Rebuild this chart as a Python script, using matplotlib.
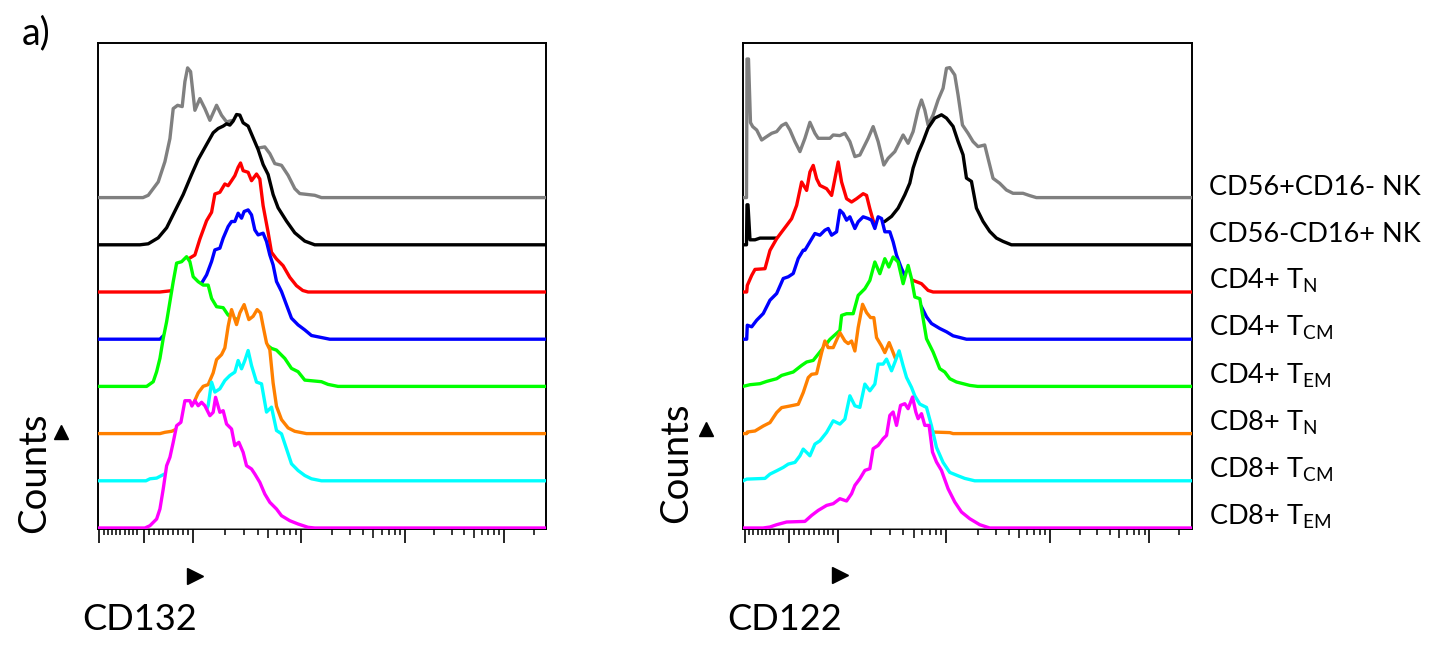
import numpy as np
import matplotlib
matplotlib.use("Agg")
import matplotlib.pyplot as plt
import matplotlib.transforms as mtransforms
from matplotlib.lines import Line2D

plt.rcParams['font.family'] = ['Lato', 'DejaVu Sans']
plt.rcParams['mathtext.fontset'] = 'custom'
plt.rcParams['mathtext.rm'] = 'Lato'
plt.rcParams['mathtext.it'] = 'Lato:italic'
plt.rcParams['mathtext.bf'] = 'Lato:bold'

# ---------------- data ----------------
populations = ["CD56+CD16- NK", "CD56-CD16+ NK",
               "CD4+ T$_{\\mathrm{N}}$", "CD4+ T$_{\\mathrm{CM}}$", "CD4+ T$_{\\mathrm{EM}}$",
               "CD8+ T$_{\\mathrm{N}}$", "CD8+ T$_{\\mathrm{CM}}$", "CD8+ T$_{\\mathrm{EM}}$"]
colors = ["#808080", "#000000", "#ff0000", "#0000ff", "#00ff00", "#ff8000", "#00ffff", "#ff00ff"]
markers = ["CD132", "CD122"]

# x: display channel, h: normalised counts (mode-scaled)
# ---- CD132 ----
c132_nk56_x = [0, 45.5, 50.8, 60.8, 67.5, 72.5, 75.8, 80.2, 84.8, 87.5, 90.2, 93.2, 97.5, 102.5, 107.5, 112.5, 119.2, 124.2, 129.2, 134.2, 144.2, 150.5, 157.5, 167.5, 172.5, 177.5, 184.2, 190.8, 197.5, 202.5, 217.5, 224.2]
c132_nk56_h = [0, 0, 2.3, 15.7, 36, 59, 89, 92.3, 91, 116, 129.7, 126, 87.3, 99, 89, 77.3, 92.3, 82.3, 75.7, 77, 76, 66, 49, 50.7, 44, 34, 32.3, 22.3, 9, 4, 2.3, 0]
c132_nk16_x = [0, 42.5, 50.8, 60.8, 69.2, 77.5, 85.8, 94.2, 100.8, 109.2, 115.8, 120.8, 125.8, 129.2, 132.5, 135.8, 139.2, 142.5, 145.8, 150.8, 155.8, 160.8, 165.8, 170.8, 175.8, 180.8, 189.2, 197.5, 207.5, 217.5]
c132_nk16_h = [0, 0, 1, 7, 17, 33.7, 50.3, 70.3, 85.3, 100.3, 112, 116.3, 118.7, 121, 119.7, 123.7, 130.3, 129.7, 122, 118.7, 107, 95.3, 80.3, 70.3, 50.3, 37, 23.7, 12, 3.7, 0]
c132_cd4n_x = [0, 62.5, 74.2, 82.5, 90.8, 97.5, 102.5, 109.2, 114.2, 117.5, 122.5, 127.5, 130.8, 134.2, 137.5, 140.8, 143.2, 145.8, 150.8, 154.2, 159.2, 162.5, 165.8, 170.8, 174.2, 179.2, 185.8, 192.5, 199.2, 205.5, 210.8]
c132_cd4n_h = [0, 0, 1.3, 10, 33, 37, 53, 71.3, 79.7, 98, 99.7, 108, 106.3, 111.3, 116.3, 124.7, 129, 121.3, 119.7, 111.3, 118, 113, 86.3, 59.7, 39.7, 33, 26.3, 14.7, 6.3, 1.5, 0]
c132_cd4cm_x = [0, 62.5, 65.5, 72.5, 87.5, 97.5, 104.2, 109.2, 114.2, 117.5, 122.5, 125.8, 130.8, 134.2, 137.5, 140.8, 144.2, 146.8, 150.8, 154.2, 157.5, 160.8, 165.8, 169.2, 172.5, 175.8, 179.2, 184.2, 189.2, 194.2, 200.8, 207.5, 214.2, 227.5, 232.5]
c132_cd4cm_h = [0, 0, 3, 7, 22, 42, 56, 64.3, 77.7, 89.3, 91, 101, 112.7, 117.7, 117.7, 126, 121, 127.7, 129.3, 124.3, 109.3, 104.3, 106, 97.7, 84.3, 74.3, 57.7, 47.7, 34.3, 21, 14.3, 9.3, 3.7, 1, 0]
c132_cd4em_x = [0, 49.2, 55.8, 59.2, 62.5, 65.8, 69.2, 72.5, 75.8, 79.2, 84.2, 89.2, 92.5, 95.8, 100.8, 105.8, 110.8, 114.2, 119.2, 125.8, 130.8, 137.5, 147.5, 157.5, 167.5, 174.2, 179.2, 187.5, 194.2, 200.8, 207.5, 224.2, 230.8, 240.8]
c132_cd4em_h = [0, 0, 4.7, 14.7, 28, 48, 64.7, 84.7, 104.7, 123.3, 124.7, 129.7, 124.7, 109.7, 104.7, 101.3, 101.3, 88, 79.7, 78.7, 71.3, 68, 63, 55, 43, 38, 36.3, 28, 18, 14.7, 6.3, 4.7, 2, 0]
c132_cd8n_x = [0, 62.5, 67.5, 74.2, 82.5, 92.5, 100.8, 105.8, 110.8, 115.8, 119.2, 124.2, 127.5, 130.8, 134.2, 139.2, 142.5, 146.8, 151.5, 155.8, 159.8, 163.2, 165.8, 169.2, 172.5, 175.8, 179.2, 184.2, 190.8, 197.5, 209.2]
c132_cd8n_h = [0, 0, 1.3, 2.3, 6, 22, 40.7, 47.3, 49, 60.7, 74, 79, 85.7, 107.3, 124, 109, 120.7, 129, 114, 117.3, 124, 120.7, 107.3, 90.7, 84, 50.7, 27.3, 14, 5.7, 2.3, 0]
c132_cd8cm_x = [0, 48.5, 52.5, 59.2, 64.2, 77.5, 92.5, 102.5, 110.8, 114.2, 117.5, 122.5, 127.5, 132.5, 137.5, 140.8, 144.2, 147.5, 150.8, 154.2, 159.2, 164.2, 169.2, 174.2, 179.2, 184.2, 189.2, 194.2, 200.8, 207.5, 214.2, 224.2]
c132_cd8cm_h = [0, 0, 2, 2.7, 5.3, 12, 32, 52, 75.3, 98.7, 88.7, 92, 100.3, 105.3, 108.7, 120.3, 112, 120.3, 130.3, 115.3, 98.7, 97, 68.7, 73.7, 50.3, 47, 32, 17, 10.3, 5.3, 2, 0]
c132_cd8em_x = [0, 47.5, 52.5, 59.2, 62.5, 65.8, 69.2, 72.5, 75.8, 79.2, 83.5, 87.5, 92.5, 94.5, 97.5, 100.8, 104.2, 107.5, 112.5, 115.8, 118.2, 122.5, 125.8, 129.2, 134.2, 137.5, 141.5, 145.8, 149.2, 154.2, 157.5, 162.5, 167.5, 172.5, 179.2, 184.2, 192.5, 200.8, 210.8, 217.5]
c132_cd8em_h = [0, 0, 2.3, 9, 19, 39, 62.3, 70.7, 85.7, 102.3, 105.7, 127.3, 127.3, 122, 127.3, 122.3, 125.7, 122.3, 112.3, 115.7, 130.7, 115.7, 117.3, 104, 99, 82.3, 85.7, 75.7, 62.3, 59, 54, 45.7, 34, 25.7, 19, 12.3, 7.3, 4, 0.7, 0]

# ---- CD122 ----
c122_nk56_x = [0, 3.5, 4, 5.5, 7.5, 9.7, 13.7, 18.7, 23.7, 28.7, 33.7, 38.7, 43, 47, 52, 57, 62, 67, 72, 75.3, 87, 90.3, 97, 102, 107, 112, 117, 125.3, 130.3, 135.3, 141, 145.3, 152, 160.3, 165.3, 170.3, 175.3, 178.7, 182, 185.3, 190.3, 195.3, 200.3, 203.7, 207, 212, 215.3, 219.7, 225.3, 230.3, 235.3, 242, 245.3, 250.3, 257, 263.7, 270.3, 280.3, 287, 293.7]
c122_nk56_h = [0, 0, 138.6, 138.6, 75, 71, 67.6, 57.6, 61, 64.3, 66, 72, 74.3, 67.6, 56, 46, 59.3, 75.3, 64.3, 59.3, 59.3, 62.6, 62, 64.3, 56, 41, 42.6, 59.3, 71, 56, 32.6, 39.3, 46, 62.6, 54.3, 66, 87.6, 97.6, 87.6, 72.6, 82.6, 97.6, 109.3, 129.3, 130, 122.6, 102.6, 72.6, 64.3, 56, 51, 52.6, 39.3, 19.3, 14.3, 7.6, 4.3, 4.3, 2, 0]
c122_nk16_x = [0, 3.5, 4, 5, 7, 12, 17, 33.7, 60, 90, 117, 142, 148.7, 155.3, 162, 167, 170.3, 175.3, 180.3, 185.3, 192, 198.7, 203.7, 210.3, 215.3, 220.3, 223.7, 228.7, 233.7, 240.3, 247, 253.7, 260.3, 268.7]
c122_nk16_h = [0, 0, 40, 40, 5, 5, 6.7, 6.7, 7, 9, 14, 23.4, 28.4, 36.7, 50, 61.7, 76.7, 91.7, 103.4, 116.7, 126.7, 130, 126.7, 118.4, 103.4, 90, 66.7, 63.4, 36.7, 23.4, 13.4, 6.7, 3.4, 0]
c122_cd4n_x = [0, 3.7, 4.3, 8.7, 12, 22, 27, 33.7, 38.7, 43.7, 48.7, 53.7, 58.7, 63.7, 67, 70.3, 73.7, 77, 83.7, 88.7, 92, 95.3, 98.7, 103.7, 108.7, 113.7, 120.3, 123.7, 127, 130.3, 142, 152, 162, 170.3, 178.7, 185.3, 190.3]
c122_cd4n_h = [0, 0, 6.6, 16.6, 22.6, 23.3, 41.6, 53.3, 60, 66.6, 73.3, 86.6, 110, 101.6, 120, 126.6, 113.3, 106.6, 103.3, 96.6, 113.3, 130, 110, 93.3, 90, 93.3, 98.3, 96.6, 83.3, 71.6, 48, 28, 15, 11.6, 8.3, 1.6, 0]
c122_cd4cm_x = [0, 3.7, 4.3, 8.7, 13.7, 20.3, 27, 33.7, 40.3, 45.3, 50.3, 55.3, 60.3, 62, 67, 72, 77, 82, 85.3, 88.7, 93.7, 97, 100.3, 103.7, 107, 112, 115.3, 120.3, 125.3, 128.7, 132, 135.3, 138.7, 142, 147, 150.3, 153.7, 158.7, 162, 170.3, 178.7, 183.7, 188.7, 197, 203.7, 210.3, 223.7]
c122_cd4cm_h = [0, 0, 14, 12.4, 19, 25.7, 39, 45.7, 60.7, 62.4, 65.7, 80.7, 89, 89, 97.4, 105.7, 104, 109, 110.7, 104, 107.4, 129, 125.7, 119, 122.4, 110.7, 117.4, 122.4, 120.7, 119, 110.7, 122.4, 120.7, 107.4, 107.4, 97.4, 84, 70.7, 64, 44, 32.4, 22.4, 15.7, 10.7, 7.4, 3.4, 0]
c122_cd4em_x = [0, 7, 17, 23.7, 33.7, 38.7, 50.3, 58.7, 63.7, 70.3, 77, 87, 97, 98.7, 103.7, 110.3, 115.3, 122, 127, 132, 137, 142, 146, 150.3, 155.3, 160.3, 165.3, 168.7, 172, 177, 183.7, 190.3, 197, 202, 207, 213.7, 227, 235]
c122_cd4em_h = [0, 1.7, 2.7, 5, 7.7, 11, 14.4, 21, 24.4, 26, 34.4, 47, 56, 71, 72.7, 72.7, 91, 97.7, 106, 124.4, 112.7, 127.7, 119.4, 129.4, 124.4, 102.7, 121, 107.7, 89.4, 87.7, 47.7, 34.4, 17.7, 14.4, 7.7, 4.4, 1, 0]
c122_cd8n_x = [0, 3.7, 4.3, 12, 20.3, 27, 33.7, 38.7, 47, 55.3, 60.3, 65.3, 68.7, 73.7, 78.7, 82, 85.3, 90.3, 97, 102, 105.3, 108.7, 112, 115.3, 119.7, 123.7, 127.7, 131, 133.7, 138.7, 142, 146.3, 150.3, 157, 167, 177, 188.7, 207, 210.3]
c122_cd8n_h = [0, 0, 1.6, 2.6, 7.6, 11, 21, 26, 27.6, 29.3, 41, 56, 59.3, 60, 81, 92.6, 86, 86, 101, 92.6, 90, 92.6, 82.6, 106, 129.3, 121, 116, 116, 96, 87.6, 81, 91, 81, 64, 34, 9, 1.6, 1, 0]
c122_cd8cm_x = [0, 3.7, 22, 27, 33.7, 40.3, 45.3, 52, 57, 60.3, 63.7, 67, 72, 77, 83.7, 90.3, 97, 102, 107, 112, 117, 122, 127, 132, 135.3, 140.3, 143.7, 148.7, 152, 156.3, 160.3, 163.7, 168.7, 172, 177, 183.7, 188.7, 193.7, 200.3, 207, 215.3, 222, 232]
c122_cd8cm_h = [0, 1.7, 2.4, 6.7, 10, 13.4, 16.7, 18.4, 25, 31.7, 28.4, 25, 36.7, 40, 48.4, 60, 56.7, 61.7, 85, 75, 73.4, 96.7, 90, 96.7, 116.7, 116.7, 121.7, 110, 118.4, 130, 115, 103.4, 93.4, 85, 76.7, 73.4, 55, 33.4, 18.4, 8.4, 5, 2.4, 0]
c122_cd8em_x = [0, 20, 27, 33.7, 43.7, 62, 68.7, 75.3, 83.7, 90.3, 97, 103.7, 108.7, 112, 117, 122, 127, 130.3, 135.3, 140.3, 143.7, 147, 150.3, 153.7, 157.7, 162, 165.3, 169.7, 173, 175.3, 178.7, 182, 186.3, 189.7, 193.7, 198.7, 205.3, 212, 218.7, 227, 237, 247]
c122_cd8em_h = [0, 0, 1, 3.3, 6, 6.6, 12.6, 17.6, 22.6, 24.3, 29.3, 27, 34.3, 42.6, 49.3, 57.6, 59.3, 79.3, 82.6, 89.3, 92.6, 112.6, 116, 102.6, 122.6, 124.3, 119.3, 131, 116, 109.3, 114.3, 102.6, 102.6, 76, 66, 57.6, 39.3, 26, 16, 9.3, 3.3, 0]

cd132_series = [(c132_nk56_x, c132_nk56_h), (c132_nk16_x, c132_nk16_h), (c132_cd4n_x, c132_cd4n_h),
                (c132_cd4cm_x, c132_cd4cm_h), (c132_cd4em_x, c132_cd4em_h), (c132_cd8n_x, c132_cd8n_h),
                (c132_cd8cm_x, c132_cd8cm_h), (c132_cd8em_x, c132_cd8em_h)]
cd122_series = [(c122_nk56_x, c122_nk56_h), (c122_nk16_x, c122_nk16_h), (c122_cd4n_x, c122_cd4n_h),
                (c122_cd4cm_x, c122_cd4cm_h), (c122_cd4em_x, c122_cd4em_h), (c122_cd8n_x, c122_cd8n_h),
                (c122_cd8cm_x, c122_cd8cm_h), (c122_cd8em_x, c122_cd8em_h)]

# ---------------- layout / style ----------------
W, H = 1437, 646
XMAX = 449.0
STEP = 47.2
YMAX = 486.0


def biex(v):
    """Map fluorescence intensity to display channel (biexponential-like axis)."""
    if v < 0:
        return 44.0 + v * 0.42
    if v <= 100:
        return 46.5 + v * 0.487
    if v <= 1e3:
        return 95.2 + np.log10(v / 100) * 108.3
    if v <= 1e4:
        return 203.5 + np.log10(v / 1e3) * 104.0
    if v <= 1e5:
        return 307.5 + np.log10(v / 1e4) * 99.0
    return 406.5 + np.log10(v / 1e5) * 100.0


major_vals = [-100, 0, 100, 1e3, 1e4, 1e5]
medium_vals = [500, 5e3, 5e4]
minor_vals = ([-v for v in range(10, 100, 10)] + list(range(10, 100, 10))
              + [200, 300, 400, 600, 700, 800, 900]
              + [2e3, 3e3, 4e3, 6e3, 7e3, 8e3, 9e3]
              + [2e4, 3e4, 4e4, 6e4, 7e4, 8e4, 9e4] + [2e5])

fig = plt.figure(figsize=(W / 100, H / 100), dpi=100)

panels = [(97.5, cd132_series), (743.0, cd122_series)]
axes = []
for left_px, series in panels:
    ax = fig.add_axes([left_px / W, 1 - 529 / H, 448.5 / W, 486 / H])
    n = len(series)
    for k, (xs, hs) in enumerate(series):
        off = (n - 1 - k) * STEP
        x = np.concatenate([np.asarray(xs, float), [XMAX]])
        h = np.concatenate([np.asarray(hs, float), [0.0]])
        ax.fill_between(x, off, off + h, color="white", lw=0, zorder=10 + 2 * k)
        ax.plot(x, off + h, color=colors[k], lw=2.4, zorder=11 + 2 * k,
                solid_joinstyle="round")
    ax.set_xlim(0, XMAX)
    ax.set_ylim(-1.0, YMAX - 1.0)
    ax.set_yticks([])
    for s in ax.spines.values():
        s.set_linewidth(1.4)
        s.set_zorder(5)
    ax.set_xticks([biex(v) for v in major_vals])
    ax.set_xticks([biex(v) for v in minor_vals], minor=True)
    ax.tick_params(axis="x", which="major", length=10, width=1.2, labelbottom=False)
    ax.tick_params(axis="x", which="minor", length=4, width=1.1)
    sec = ax.secondary_xaxis("bottom")
    sec.set_xticks([biex(v) for v in medium_vals])
    sec.tick_params(length=6.5, width=1.1, labelbottom=False)
    sec.spines["bottom"].set_visible(False)
    axes.append(ax)

# population labels beside the right panel
ax2 = axes[1]
trans = mtransforms.blended_transform_factory(ax2.transAxes, ax2.transData)
for k, lab in enumerate(populations):
    off = (len(populations) - 1 - k) * STEP
    ax2.text(1.04, off + 3, lab, transform=trans, ha="left", va="baseline",
             fontsize=19.5, clip_on=False)


def fx(px):
    return px / W


def fy(py):
    return 1 - py / H


fig.text(fx(22), fy(44), "a)", fontsize=27, ha="left", va="baseline")
for i, (cx, yc) in enumerate([(82, 630), (727, 630)]):
    fig.text(fx(cx), fy(yc), markers[i], fontsize=26, ha="left", va="baseline")
for bx, by in [(45, 533), (687, 523)]:
    fig.text(fx(bx), fy(by), "Counts", fontsize=27.5, rotation=90, rotation_mode="anchor",
             ha="left", va="baseline")
for mx, my in [(61, 432), (706, 429)]:
    fig.add_artist(Line2D([fx(mx)], [fy(my)], marker="^", markersize=10.5, color="black",
                          lw=0, transform=fig.transFigure))
for mx, my in [(195, 576), (840, 574.5)]:
    fig.add_artist(Line2D([fx(mx)], [fy(my)], marker=">", markersize=11, color="black",
                          lw=0, transform=fig.transFigure))

fig.savefig("out.png", dpi=100)
